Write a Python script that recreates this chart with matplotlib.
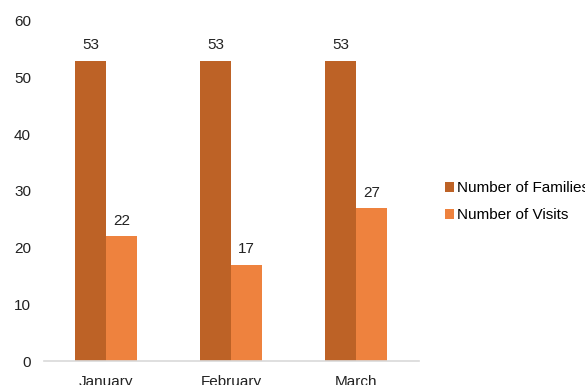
import numpy as np
from matplotlib import pyplot as plt

plt.rcParams['font.family'] = ['Liberation Sans', 'DejaVu Sans']

months = ['January', 'February', 'March']
families = [53, 53, 53]
visits = [22, 17, 27]

dark = '#BD6226'
light = '#EE823E'

fig = plt.figure(figsize=(5.85, 3.85), dpi=100)
ax = fig.add_axes([0.0744, 0.0623, 0.641, 0.8832])

x = np.arange(len(months))
w = 0.25
b1 = ax.bar(x - w / 2, families, w, color=dark, label='Number of Families')
b2 = ax.bar(x + w / 2, visits, w, color=light, label='Number of Visits')

for bars in (b1, b2):
    for r in bars:
        ax.annotate(f'{r.get_height():g}', (r.get_x() + r.get_width() / 2, r.get_height()),
                    xytext=(0, 6), textcoords='offset points', ha='center', va='bottom',
                    fontsize=11, color='#222222')

ax.set_xlim(-0.5, 2.5)
ax.set_ylim(0, 60)
ax.set_yticks(range(0, 61, 10))
ax.set_xticks(x)
ax.set_xticklabels(months)
ax.tick_params(length=0, labelsize=11, labelcolor='#222222')
ax.tick_params(axis='y', pad=9)
ax.tick_params(axis='x', pad=10)
for s in ['top', 'right', 'left']:
    ax.spines[s].set_visible(False)
ax.spines['bottom'].set_color('#D9D9D9')
ax.spines['bottom'].set_linewidth(1.2)

fig.legend(loc='upper left', bbox_to_anchor=(0.737, 0.565), frameon=False,
           fontsize=11, handlelength=0.6, handleheight=0.6, handletextpad=0.2,
           labelspacing=0.85)

fig.savefig('out.png', dpi=100)
